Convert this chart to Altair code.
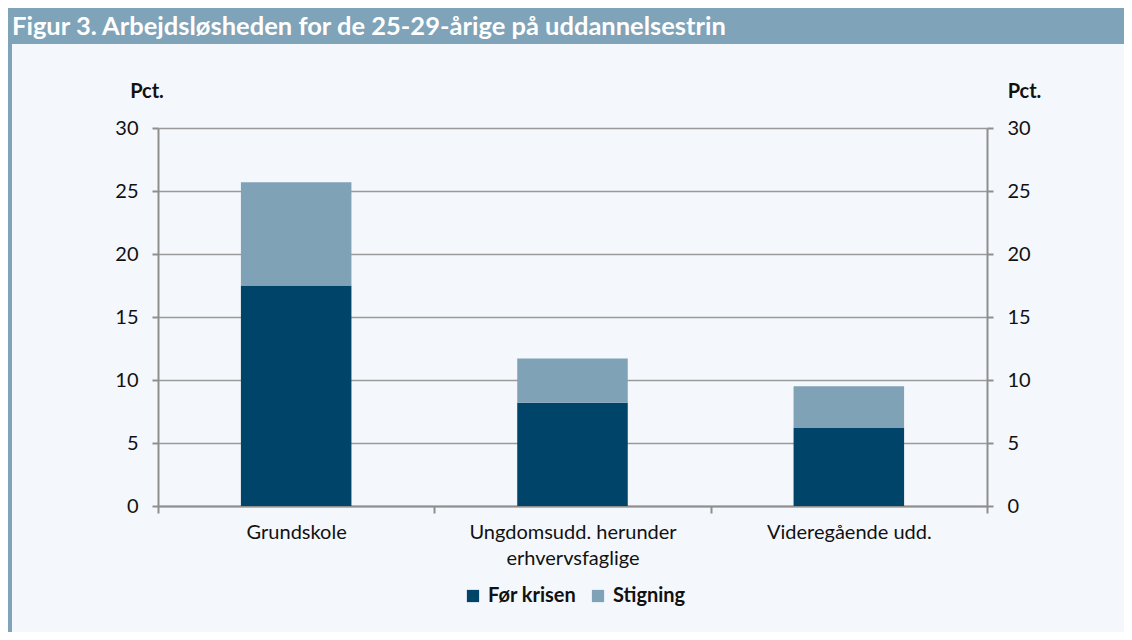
import altair as alt
import pandas as pd

# ---- data ----
categories = ["Grundskole", "Ungdomsudd. herunder erhvervsfaglige", "Videregående udd."]
for_krisen = [17.5, 8.2, 6.2]
stigning = [8.2, 3.5, 3.3]
series_names = ["Før krisen", "Stigning"]
y_ticks = [0, 5, 10, 15, 20, 25, 30]
title_text = "Figur 3. Arbejdsløsheden for de 25-29-årige på uddannelsestrin"

rows = []
for i, c in enumerate(categories):
    rows.append({"cat": c, "serie": series_names[0], "val": for_krisen[i], "ord": 0})
    rows.append({"cat": c, "serie": series_names[1], "val": stigning[i], "ord": 1})
df = pd.DataFrame(rows)

FONT = "Lato"
DARK = "#004469"
LIGHT = "#7fa2b7"
BAR = "#7fa3b8"
BG = "#f4f8fc"
GRAY = "#8e8e8e"
FS = 20

W, H = 829, 378
PL, PT = 150, 120
TOTW, TOTH = 1116, 624

x_enc = alt.X(
    "cat:N",
    sort=categories,
    scale=alt.Scale(paddingInner=0, paddingOuter=0),
    axis=alt.Axis(
        title=None,
        labelAngle=0,
        labelFont=FONT,
        labelFontSize=FS,
        labelColor="#111111",
        labelPadding=9,
        labelLineHeight=26,
        labelLimit=400,
        labelExpr="datum.value == 'Ungdomsudd. herunder erhvervsfaglige' ? ['Ungdomsudd. herunder', 'erhvervsfaglige'] : datum.label",
        tickBand="extent",
        ticks=True,
        tickSize=7,
        tickColor=GRAY,
        tickWidth=2,
        domainColor=GRAY,
        domainWidth=2,
        grid=False,
    ),
)

y_scale = alt.Scale(domain=[0, 30], nice=False)

bars = alt.Chart(df).mark_bar(width=alt.RelativeBandSize(0.4)).encode(
    x=x_enc,
    y=alt.Y(
        "val:Q",
        stack="zero",
        scale=y_scale,
        axis=alt.Axis(
            orient="left",
            values=y_ticks,
            title="Pct.",
            titleAngle=0,
            titleAlign="center",
            titleBaseline="middle",
            titleX=-11.5,
            titleY=-36.5,
            titleFont=FONT,
            titleFontSize=FS,
            titleFontWeight="bold",
            titleColor="#111111",
            labelFont=FONT,
            labelFontSize=FS,
            labelColor="#111111",
            labelPadding=14,
            tickSize=6,
            tickColor=GRAY,
            tickWidth=2,
            domainColor=GRAY,
            domainWidth=2,
            grid=True,
            gridColor="#9a9a9a",
            gridWidth=1.5,
        ),
    ),
    color=alt.Color(
        "serie:N",
        scale=alt.Scale(domain=series_names, range=[DARK, LIGHT]),
        legend=alt.Legend(
            title=None,
            orient="none",
            direction="horizontal",
            legendX=305,
            legendY=458,
            symbolType="square",
            symbolSize=150,
            symbolStrokeWidth=0,
            labelFont=FONT,
            labelFontSize=FS,
            labelFontWeight="bold",
            labelColor="#111111",
            columnPadding=11,
            labelOffset=5,
        ),
    ),
    order=alt.Order("ord:Q", sort="ascending"),
)

right = alt.Chart(df).mark_bar(width=alt.RelativeBandSize(0.4), opacity=0).encode(
    x=alt.X("cat:N", sort=categories, scale=alt.Scale(paddingInner=0, paddingOuter=0)),
    y=alt.Y(
        "val:Q",
        stack="zero",
        scale=y_scale,
        axis=alt.Axis(
            orient="right",
            values=y_ticks,
            title="Pct.",
            titleAngle=0,
            titleAlign="center",
            titleBaseline="middle",
            titleX=37,
            titleY=-36.5,
            titleFont=FONT,
            titleFontSize=FS,
            titleFontWeight="bold",
            titleColor="#111111",
            labelFont=FONT,
            labelFontSize=FS,
            labelColor="#111111",
            labelPadding=14,
            tickSize=6,
            tickColor=GRAY,
            tickWidth=2,
            domainColor=GRAY,
            domainWidth=2,
            grid=False,
        ),
    ),
)

tdf = pd.DataFrame({"t": [title_text]})
title_bar = alt.Chart(tdf).mark_rect(color=BAR).encode(
    x=alt.value(-PL), x2=alt.value(TOTW - PL), y=alt.value(-PT), y2=alt.value(-PT + 36)
)
stripe = alt.Chart(tdf).mark_rect(color=BAR).encode(
    x=alt.value(-PL), x2=alt.value(-PL + 4), y=alt.value(-PT), y2=alt.value(TOTH - PT)
)
title = alt.Chart(tdf).mark_text(
    font=FONT, fontSize=25.5, fontWeight="bold", color="white", align="left", baseline="alphabetic"
).encode(text="t:N", x=alt.value(-146), y=alt.value(-93))

chart = (
    alt.layer(title_bar, stripe, title, bars, right)
    .resolve_scale(y="independent")
    .properties(
        width=W,
        height=H,
        autosize=alt.AutoSizeParams(type="none"),
        padding={"left": PL, "top": PT, "right": TOTW - PL - W, "bottom": TOTH - PT - H},
        background=BG,
    )
    .configure_view(stroke=None)
)

chart.save("out.html", embed_options={"renderer": "svg", "actions": False})
